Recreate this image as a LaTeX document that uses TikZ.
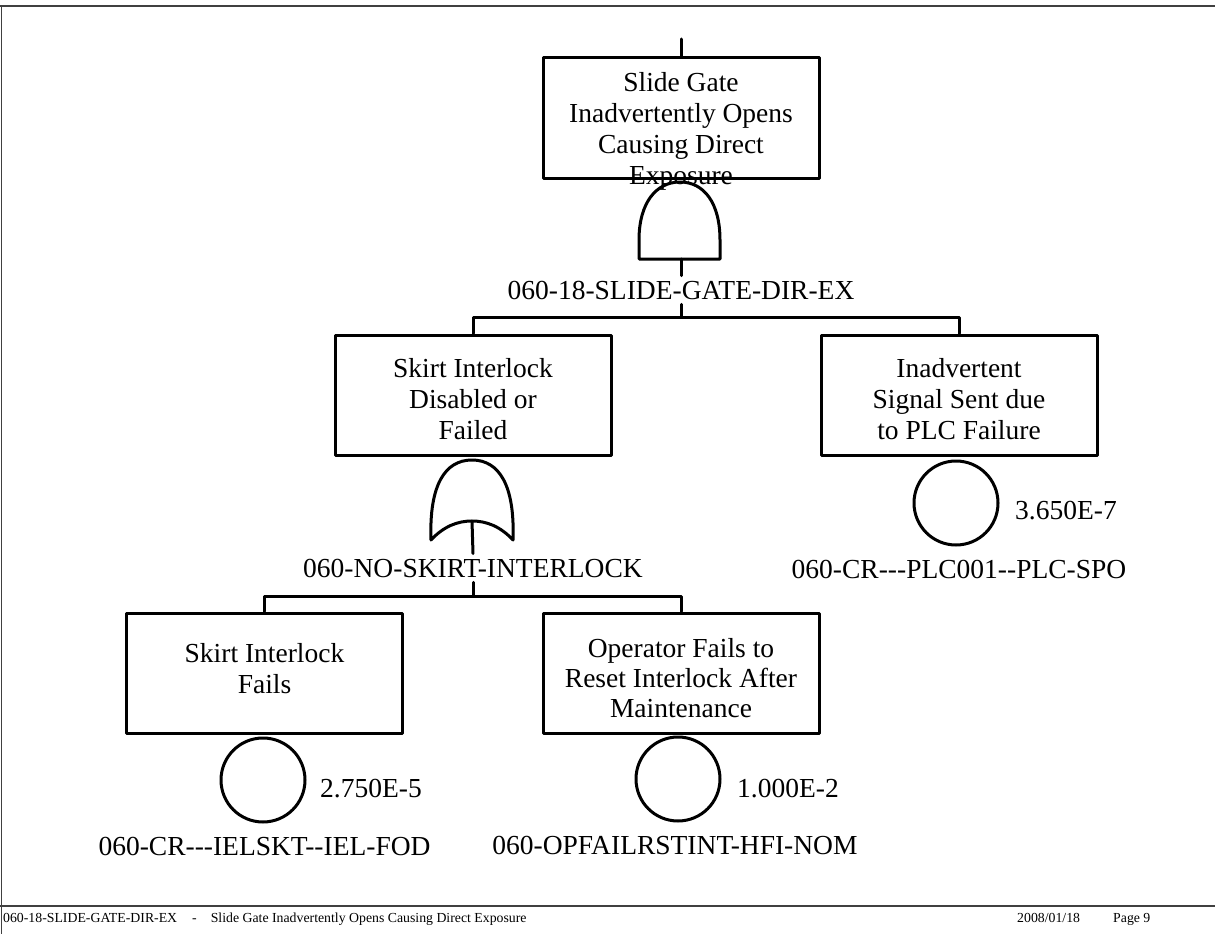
\documentclass[tikz,border=0pt]{standalone}
\usepackage{fontspec}
\setmainfont{Liberation Serif}[Ligatures=TeXOff]
\newcommand{\bigtxt}{\fontsize{27.5}{31}\selectfont}
\newcommand{\foottxt}{\fontsize{13.8}{16}\selectfont}
\tikzset{
  ln/.style={line width=3pt, line cap=round, line join=round},
  evbox/.style={draw, line width=3pt, minimum width=276pt, minimum height=120pt, inner sep=0pt, line join=round},
  boxtxt/.style={font=\bigtxt, align=center, inner sep=0pt, anchor=north},
  gatelbl/.style={font=\bigtxt, inner sep=5pt, anchor=base},
  idlbl/.style={font=\bigtxt, inner sep=0pt, anchor=base},
  problbl/.style={font=\bigtxt, inner sep=0pt, anchor=base west},
  basic/.style={draw, circle, line width=3pt, minimum size=84pt, inner sep=0pt},
  frameln/.style={line width=1.3pt, draw=black!75},
  foot/.style={font=\foottxt, inner sep=0pt, anchor=base west}
}
\begin{document}
\begin{tikzpicture}[x=1pt, y=-1pt]
\useasboundingbox (0,0) rectangle (1215,934);
% page frame
\draw[frameln] (0,6) -- (1215,6);
\draw[frameln] (1.5,6) -- (1.5,934);
\draw[frameln] (0,906) -- (1215,906);

% ---- top event ----
\node[evbox] (tb) at (681,118) {};
\node[boxtxt] (tbt) at (681,72.4) {Slide Gate\\Inadvertently Opens\\Causing Direct\\Exposure};
\coordinate (topin) at (681,39);
\draw[ln] (topin) -- (tb.north);
% AND gate
\draw[ln] (639,259) -- (639,240) .. controls (639,203) and (656,182) .. (680,182)
  .. controls (704,182) and (720,203) .. (720,240) -- (720,259) -- cycle;
\coordinate (g1out) at (681,259);
\node[gatelbl] (lab1) at (681,299) {060-18-SLIDE-GATE-DIR-EX};
\draw[ln] (g1out) -- (lab1.north);
\coordinate (bar1) at (681,317);
\draw[ln] (lab1.south) -- (bar1);

% ---- second level ----
\node[evbox] (mlb) at (473,395) {};
\node[boxtxt] (mlbt) at (473,358.4) {Skirt Interlock\\Disabled or\\Failed};
\node[evbox] (mrb) at (959,395) {};
\node[boxtxt] (mrbt) at (959,358.4) {Inadvertent\\Signal Sent due\\to PLC Failure};
\draw[ln] (mlb.north) |- (bar1) -| (mrb.north);

% basic event under right box
\node[basic] (ev3) at (956,503) {};
\node[problbl] (p3) at (1015,519) {3.650E-7};
\node[idlbl] (id3) at (959,578) {060-CR---PLC001--PLC-SPO};

% OR gate
\draw[ln] (431,540) .. controls (429,485) and (445,460) .. (472,460)
  .. controls (499,460) and (515,485) .. (513,540)
  .. controls (500,526) and (486,521) .. (472,521)
  .. controls (458,521) and (444,526) .. (431,540) -- cycle;
\coordinate (g2out) at (472,521);
\node[gatelbl] (lab2) at (473,577) {060-NO-SKIRT-INTERLOCK};
\draw[ln] (g2out) -- (lab2.north);
\coordinate (bar2) at (473,596);
\draw[ln] (lab2.south) -- (bar2);

% ---- third level ----
\node[evbox] (blb) at (264.5,673) {};
\node[boxtxt] (blbt) at (264.5,643.4) {Skirt Interlock\\Fails};
\node[evbox] (brb) at (681,673) {};
\node[boxtxt, font=\fontsize{27.5}{30}\selectfont] (brbt) at (681,638.4) {Operator Fails to\\Reset Interlock After\\Maintenance};
\draw[ln] (blb.north) |- (bar2) -| (brb.north);

\node[basic] (ev1) at (263,780) {};
\node[problbl] (p1) at (320,797) {2.750E-5};
\node[idlbl] (id1) at (264.5,855) {060-CR---IELSKT--IEL-FOD};

\node[basic] (ev2) at (678,779) {};
\node[problbl] (p2) at (737,797) {1.000E-2};
\node[idlbl] (id2) at (675,854) {060-OPFAILRSTINT-HFI-NOM};

% ---- footer ----
\node[foot] (f1) at (3,922) {060-18-SLIDE-GATE-DIR-EX\hspace{15pt}-\hspace{14pt}Slide Gate Inadvertently Opens Causing Direct Exposure};
\node[foot] (f2) at (1017,922) {2008/01/18};
\node[foot] (f3) at (1113,922) {Page 9};
\end{tikzpicture}
\end{document}
